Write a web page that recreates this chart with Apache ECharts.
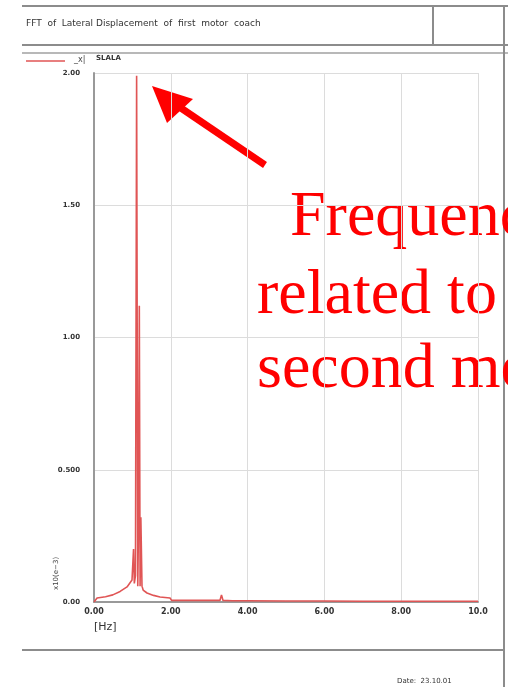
<!DOCTYPE html>
<html><head><meta charset="utf-8">
<script src="https://cdn.jsdelivr.net/npm/echarts@6/dist/echarts.min.js"></script>
<style>html,body{margin:0;padding:0;background:#fff;}#c{width:508px;height:687px;}</style>
</head><body><div id="c"></div>
<script>
// Data
const freqHz = [0, 0.08, 0.3, 0.49, 0.68, 0.86, 0.99, 1.03, 1.05, 1.08, 1.11, 1.14, 1.16, 1.18, 1.2, 1.22, 1.25, 1.28, 1.38, 1.55, 1.72, 1.98, 2.02, 2.5, 3.0, 3.28, 3.32, 3.36, 3.6, 4.0, 5.0, 6.0, 7.0, 8.0, 9.0, 10.0];
const amplitude = [0.0, 0.015, 0.02, 0.027, 0.04, 0.057, 0.083, 0.2, 0.07, 0.1, 1.99, 0.06, 0.3, 1.12, 0.06, 0.32, 0.06, 0.045, 0.034, 0.025, 0.019, 0.015, 0.006, 0.006, 0.006, 0.006, 0.027, 0.006, 0.005, 0.005, 0.004, 0.004, 0.003, 0.003, 0.003, 0.003];
const xTickLabels = ['0.00', '2.00', '4.00', '6.00', '8.00', '10.0'];
const yTickLabels = ['0.00', '0.500', '1.00', '1.50', '2.00'];
const seriesName = 'SLALA';

const chart = echarts.init(document.getElementById('c'), null, {renderer: 'canvas'});
const gray = '#8c8c8c';
const red = '#ff0000';
const line = (x1, y1, x2, y2, w, c) => ({type: 'line', shape: {x1, y1, x2, y2}, style: {stroke: c || gray, lineWidth: w || 2}, silent: true});
chart.setOption({
  animation: false,
  backgroundColor: '#fff',
  grid: {left: 94, right: 30, top: 73, bottom: 85, containLabel: false},
  xAxis: {
    type: 'value', min: 0, max: 10, interval: 2,
    axisLine: {show: true, lineStyle: {color: '#999', width: 2}},
    axisTick: {show: false},
    splitLine: {show: true, lineStyle: {color: '#dcdcdc', width: 1}},
    axisLabel: {color: '#333', fontSize: 8, fontFamily: 'DejaVu Sans', fontWeight: 'bold', margin: 6,
      formatter: (v) => xTickLabels[Math.round(v / 2)]}
  },
  yAxis: {
    type: 'value', min: 0, max: 2, interval: 0.5,
    axisLine: {show: true, lineStyle: {color: '#999', width: 2}},
    axisTick: {show: false},
    splitLine: {show: true, lineStyle: {color: '#dcdcdc', width: 1}},
    axisLabel: {color: '#333', fontSize: 7, fontFamily: 'DejaVu Sans', fontWeight: 'bold', margin: 14,
      formatter: (v) => yTickLabels[Math.round(v * 2)]}
  },
  series: [{
    name: seriesName, type: 'line', showSymbol: false,
    data: freqHz.map((f, i) => [f, amplitude[i]]),
    lineStyle: {color: '#e05555', width: 1.6},
    itemStyle: {color: '#e05555'}
  }],
  graphic: [
    // frame
    line(22, 6, 508, 6),
    line(22, 45, 508, 45),
    line(433, 6, 433, 45),
    line(22, 53, 508, 53, 1.5, '#a0a0a0'),
    line(504, 6, 504, 687),
    line(22, 650, 504, 650),
    {type: 'text', left: 26, top: 19, style: {text: 'FFT  of  Lateral Displacement  of  first  motor  coach', fontSize: 9, fontFamily: 'DejaVu Sans', fill: '#333'}},
    // legend
    line(26, 61, 65, 61, 1.6, '#e05555'),
    {type: 'text', left: 74, top: 56, style: {text: '_x|', fontSize: 8, fontFamily: 'DejaVu Sans', fill: '#444'}},
    {type: 'text', left: 96, top: 55, style: {text: seriesName, fontSize: 7, fontFamily: 'DejaVu Sans', fontWeight: 'bold', fill: '#333'}},
    // axis names
    {type: 'text', x: 56, y: 590, rotation: Math.PI / 2, style: {text: 'x10(e−3)', fontSize: 7, fontFamily: 'DejaVu Sans', fill: '#444', align: 'left', verticalAlign: 'middle'}},
    {type: 'text', left: 94, top: 622, style: {text: '[Hz]', fontSize: 11, fontFamily: 'DejaVu Sans', fill: '#333'}},
    {type: 'text', left: 397, top: 678, style: {text: 'Date:  23.10.01', fontSize: 7, fontFamily: 'DejaVu Sans', fill: '#333'}},
    // annotation arrow
    line(265, 165, 175, 104, 7, red),
    {type: 'polygon', shape: {points: [[152, 86], [193, 99], [167, 123]]}, style: {fill: red}, silent: true},
    // annotation text
    {type: 'text', x: 290, y: 218, style: {text: 'Frequency', fontSize: 64, fontFamily: 'Liberation Serif', fill: red, verticalAlign: 'middle'}},
    {type: 'text', x: 257, y: 296, style: {text: 'related to the', fontSize: 64, fontFamily: 'Liberation Serif', fill: red, verticalAlign: 'middle'}},
    {type: 'text', x: 257, y: 370, style: {text: 'second mode', fontSize: 64, fontFamily: 'Liberation Serif', fill: red, verticalAlign: 'middle'}}
  ]
});
</script></body></html>
